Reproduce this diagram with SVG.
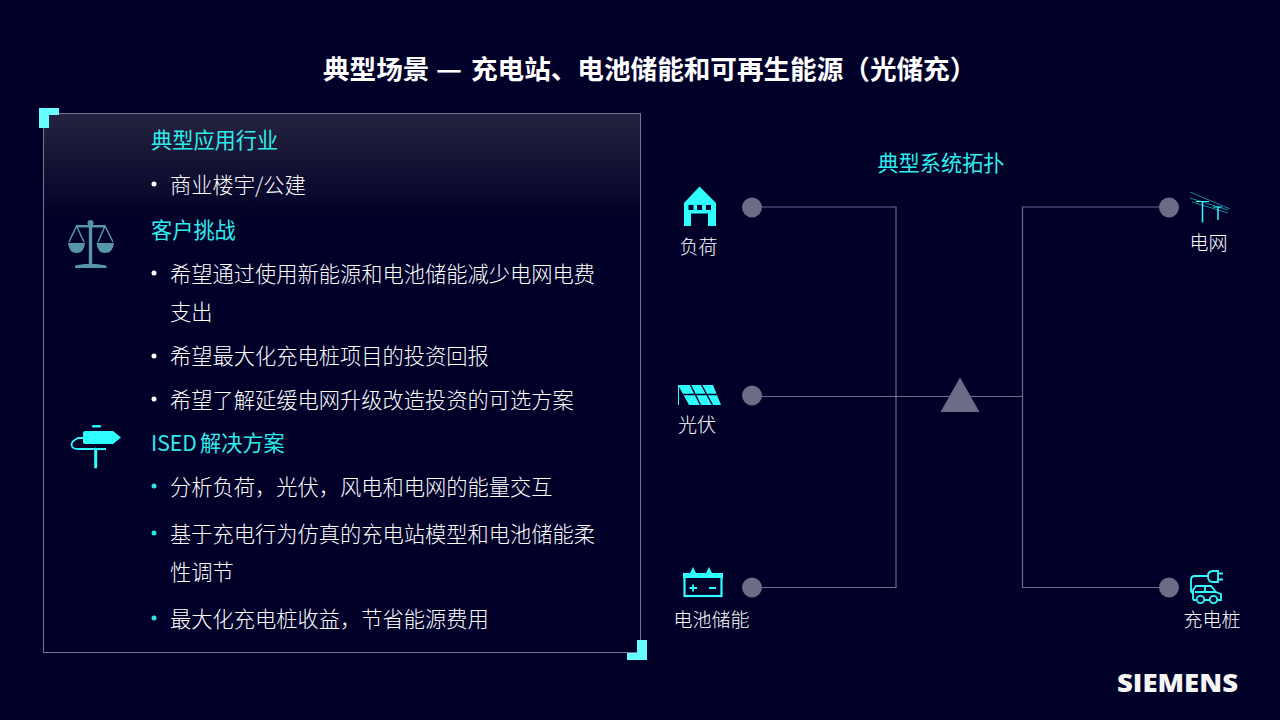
<svg xmlns="http://www.w3.org/2000/svg" width="1280" height="720" viewBox="0 0 1280 720">
<style>
text{font-family:"Noto Sans CJK SC","Liberation Sans",sans-serif}
.title{font-size:26.600px;font-weight:700;fill:#fff}
.h{font-size:21.200px;font-weight:400;fill:#2fecec}
.b{font-size:21.250px;font-weight:300;fill:#fff}
.lab{font-size:19px;font-weight:300;fill:#fff}
.dot{fill:#6d6b86}
.wire{fill:none;stroke:#6d6b86;stroke-width:1.200}
.cy{fill:#2ffdfd}
.cyl{fill:none;stroke:#2ffdfd;stroke-width:1.800}
.corner{fill:#66fdff}
</style>
<defs>
<linearGradient id="panelG" x1="0" y1="0" x2="0" y2="1">
<stop offset="0" stop-color="#25233f"/><stop offset="0.2" stop-color="#000028"/>
</linearGradient>
</defs>
<rect width="1280" height="720" fill="#000028"/>
<text class="title" y="79"><tspan x="323">典型场景</tspan><tspan x="436" textLength="26" lengthAdjust="spacingAndGlyphs">—</tspan><tspan x="471">充电站、电池储能和可再生能源（光储充）</tspan></text>
<g id="panel">
<rect x="43.500" y="113.500" width="597" height="539" fill="url(#panelG)" stroke="#77758f" stroke-width="1"/>
<path class="corner" d="M39 108H59V115H49V128H39Z"/>
<path class="corner" d="M647 640V660H627V653H637V640Z"/>
</g>
<g id="text-panel">
<text class="h" x="151" y="148">典型应用行业</text>
<circle cx="154" cy="184" r="2.500" fill="#fff"/>
<text class="b" x="170" y="193">商业楼宇/公建</text>
<text class="h" x="151" y="238">客户挑战</text>
<circle cx="154" cy="273" r="2.500" fill="#fff"/>
<text class="b" x="170" y="282">希望通过使用新能源和电池储能减少电网电费</text>
<text class="b" x="170" y="320">支出</text>
<circle cx="154" cy="356" r="2.500" fill="#fff"/>
<text class="b" x="170" y="364">希望最大化充电桩项目的投资回报</text>
<circle cx="154" cy="399" r="2.500" fill="#fff"/>
<text class="b" x="170" y="408">希望了解延缓电网升级改造投资的可选方案</text>
<text class="h" x="151" y="451">ISED <tspan x="200">解决方案</tspan></text>
<circle cx="154" cy="486" r="2.500" fill="#2de5e5"/>
<text class="b" x="170" y="495">分析负荷，光伏，风电和电网的能量交互</text>
<circle cx="154" cy="533" r="2.500" fill="#2de5e5"/>
<text class="b" x="170" y="542">基于充电行为仿真的充电站模型和电池储能柔</text>
<text class="b" x="170" y="580">性调节</text>
<circle cx="154" cy="618" r="2.500" fill="#2de5e5"/>
<text class="b" x="170" y="627">最大化充电桩收益，节省能源费用</text>
</g>
<g id="icon-scale">
<circle cx="90.500" cy="223" r="3" fill="#5796a8"/>
<path d="M88.800 224H92.200V265H88.800Z" fill="#5796a8"/>
<path d="M76 225H105V227.500H76Z" fill="#5796a8"/>
<path d="M75 265.500Q90 262 106.500 265.500V268H75Z" fill="#5796a8"/>
<path d="M68 243H85Q84 253 76.500 253Q69 253 68 243ZM96.500 243H114Q113 253 105 253Q97.500 253 96.500 243Z" fill="#5796a8"/>
<path d="M69 242L76.500 226L84 242M98 242L105 226L113 242" fill="none" stroke="#5796a8" stroke-width="1.500"/>
</g>
<g id="icon-sign">
<rect x="92" y="425" width="9" height="2.500" rx="1.200" class="cy"/>
<path class="cy" d="M85 431Q83 431 83 433V442Q83 444 85 444H113L121 437.500L113 431Z"/>
<path class="cyl" d="M84 438H78Q71.500 441 71.500 445Q72 449 78 449H106"/>
<path d="M95.700 449V467" fill="none" stroke="#2ffdfd" stroke-width="3" stroke-linecap="round"/>
</g>
<g id="connectors">
<path class="wire" d="M752 207H896V587.500H752"/>
<path class="wire" d="M752 396.500H1023"/>
<path class="wire" d="M1169 207H1022.500V587.500H1169"/>
</g>
<g id="hub"><path class="dot" d="M960 377.500L979.500 412H940.500Z"/></g>
<text class="h" x="941" y="171" text-anchor="middle">典型系统拓扑</text>
<g id="node-load">
<path class="cy" d="M699.500 186.500L716 203V226H708V213.500H691V226H684V203Z"/>
<rect x="688.500" y="205" width="5" height="5" fill="#000028"/><rect x="697" y="205" width="5" height="5" fill="#000028"/><rect x="706" y="205" width="5" height="5" fill="#000028"/>
<circle class="dot" cx="752" cy="207.500" r="10"/>
<text class="lab" x="698.500" y="253.500" text-anchor="middle">负荷</text>
</g>
<g id="node-pv">
<path class="cy" d="M678 385H713L721 405H689Z"/>
<path d="M678.500 385V405" stroke="#2ffdfd" stroke-width="1"/>
<path d="M681 394.500H718M690 384L701 406M701 384L713 406" stroke="#000028" stroke-width="1.500"/>
<circle class="dot" cx="752" cy="395.500" r="10"/>
<text class="lab" x="697" y="432" text-anchor="middle">光伏</text>
</g>
<g id="node-battery">
<path class="cy" d="M683 573H690L693 567L696 573H706L709 567L712 573H723V578H683Z"/>
<rect x="684.500" y="576" width="37" height="20" fill="none" stroke="#2ffdfd" stroke-width="2.200"/>
<path d="M689.500 588H697M693 584.500V591.500M709 588H716" stroke="#2ffdfd" stroke-width="1.800"/>
<circle class="dot" cx="752" cy="587.500" r="10"/>
<text class="lab" x="711.500" y="627" text-anchor="middle">电池储能</text>
</g>
<g id="node-grid">
<circle class="dot" cx="1169" cy="207.500" r="10"/>
<path d="M1190 192L1230 209M1190 198L1228 210M1192 202L1228 213" stroke="#1fa8b0" stroke-width="0.800" fill="none"/>
<path d="M1202.500 201V222.500M1218 207V220" stroke="#2ffdfd" stroke-width="1.500" fill="none"/>
<path d="M1196 201.500H1209M1213 207H1222" stroke="#2ffdfd" stroke-width="1" fill="none"/>
<text class="lab" x="1208.500" y="250" text-anchor="middle">电网</text>
</g>
<g id="node-charger">
<circle class="dot" cx="1169" cy="587.500" r="10"/>
<path class="cyl" d="M1218 571H1213Q1208 571 1208 576.500Q1208 582 1213 582H1218ZM1218 573.500H1223M1218 579.500H1223"/>
<path class="cyl" d="M1208 576H1195Q1191 576 1191 580V590Q1191 593 1194 593"/>
<path class="cyl" d="M1196 600H1194Q1193 600 1193 598V590L1196 586H1211L1216 592L1221 594V600H1217M1204 600H1210M1195 592H1216M1205 586V592"/>
<circle class="cyl" cx="1200.500" cy="599.500" r="3.700"/>
<circle class="cyl" cx="1213.500" cy="599.500" r="3.700"/>
<text class="lab" x="1212" y="627" text-anchor="middle">充电桩</text>
</g>
<text id="logo" x="1117" y="692" textLength="121" lengthAdjust="spacingAndGlyphs" style="font-family:'Open Sans','Liberation Sans',sans-serif;font-weight:800;font-size:24px" fill="#f5f5f5">SIEMENS</text>
</svg>
